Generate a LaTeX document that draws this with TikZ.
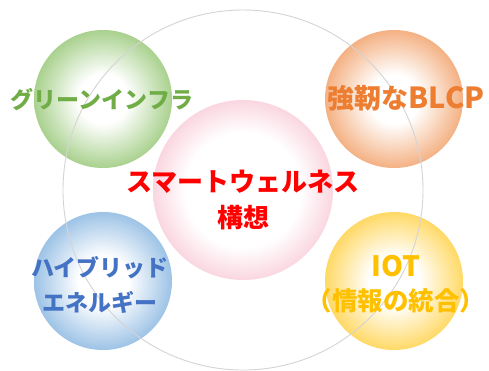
\documentclass[tikz,border=0pt]{standalone}
\usepackage{fontspec}
\newfontfamily\cjk{Noto Sans CJK JP}
\definecolor{gedge}{HTML}{A9D18E}
\definecolor{oedge}{HTML}{F4B183}
\definecolor{bedge}{HTML}{9DC3E6}
\definecolor{yedge}{HTML}{FFD966}
\definecolor{pedge}{HTML}{FAD6E0}
\definecolor{gtext}{HTML}{70AD47}
\definecolor{otext}{HTML}{ED7D31}
\definecolor{btext}{HTML}{4472C4}
\definecolor{ytext}{HTML}{FFC000}
\definecolor{rtext}{HTML}{FF0000}
\definecolor{ringgray}{HTML}{D4D4D4}
\pgfdeclareradialshading{gball}{\pgfpoint{0bp}{0bp}}{color(0bp)=(white); color(9bp)=(white); color(25bp)=(gedge); color(50bp)=(gedge)}
\pgfdeclareradialshading{oball}{\pgfpoint{0bp}{0bp}}{color(0bp)=(white); color(9bp)=(white); color(25bp)=(oedge); color(50bp)=(oedge)}
\pgfdeclareradialshading{bball}{\pgfpoint{0bp}{0bp}}{color(0bp)=(white); color(9bp)=(white); color(25bp)=(bedge); color(50bp)=(bedge)}
\pgfdeclareradialshading{yball}{\pgfpoint{0bp}{0bp}}{color(0bp)=(white); color(9bp)=(white); color(25bp)=(yedge); color(50bp)=(yedge)}
\pgfdeclareradialshading{pball}{\pgfpoint{0bp}{0bp}}{color(0bp)=(white); color(16bp)=(white); color(25bp)=(pedge); color(50bp)=(pedge)}
\tikzset{
  ball/.style={circle, inner sep=0pt, minimum size=138pt},
  txtbase/.style={font=\cjk\bfseries, align=center, inner sep=0pt}
}
\newcommand{\fsz}[2]{\fontsize{#1}{#2}\selectfont}
\begin{document}
\begin{tikzpicture}[x=1pt,y=-1pt]
\useasboundingbox (0,0) rectangle (489,370);
\fill[white] (0,0) rectangle (489,370);
\node[ball, shading=gball] (gc) at (103,99) {};
\node[ball, shading=oball] (oc) at (394,99) {};
\node[ball, shading=bball] (bc) at (103,281) {};
\node[ball, shading=yball] (yc) at (394,281) {};
\node[circle, inner sep=0pt, minimum size=180pt, shading=pball] (pc) at (243,190) {};
\node[circle, inner sep=0pt, minimum size=360pt, draw=ringgray, line width=0.9pt] (ring) at (243,190) {};
\node[txtbase, text=gtext, font=\cjk\bfseries\fsz{23}{35}] (gt) at (102,100) {グリーンインフラ};
\node[txtbase, text=otext, font=\cjk\bfseries\fsz{27}{35}] (ot) at (406,98) {強靭な\fsz{29}{35}BLCP};
\node[txtbase, text=btext, font=\cjk\bfseries\fsz{23}{35}] (bt) at (100,285) {ハイブリッド\\エネルギー};
\node[txtbase, text=ytext, font=\cjk\bfseries\fsz{25.5}{34}] (yt) at (396,284) {{\fsz{28}{34}IOT}\\（情報の統合）};
\node[txtbase, text=rtext, font=\cjk\bfseries\fsz{26}{36}] (rt) at (243,200) {スマートウェルネス\\構想};
\end{tikzpicture}
\end{document}
